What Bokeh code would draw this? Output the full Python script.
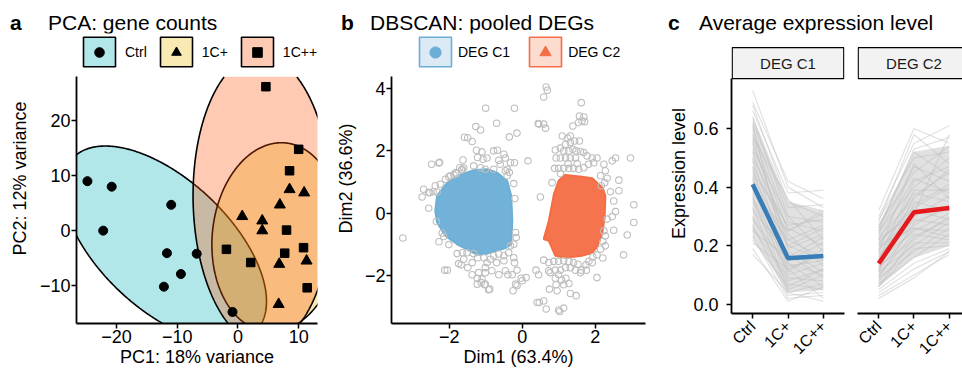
import math
import numpy as np
from bokeh.plotting import figure
from bokeh.layouts import row, column
from bokeh.models import (Range1d, FixedTicker, Legend, LegendItem, Div,
                          ColumnDataSource, NumeralTickFormatter)
from bokeh.core.properties import value
from bokeh.embed import file_html
from bokeh.resources import INLINE

FONT = "Liberation Sans"

# ---------------- Panel a: PCA ----------------
pca_groups = ["Ctrl", "1C+", "1C++"]
pca_ctrl_x = [-24.8, -20.8, -22.2, -11.0, -11.7, -6.8, -9.4, -12.2, -0.9]
pca_ctrl_y = [8.9, 7.9, -0.1, 4.6, -4.2, -4.3, -8.0, -10.3, -14.9]
pca_1cp_x = [0.7, 4.0, 4.0, 6.9, 8.5, 10.9, 6.8, 11.3, 6.7]
pca_1cp_y = [2.5, 1.7, -0.1, 4.6, 7.4, 6.8, -6.2, -5.6, -13.5]
pca_1cpp_x = [4.6, 10.0, 8.5, 8.0, 7.7, 10.8, 11.4, -1.9, 2.1]
pca_1cpp_y = [26.1, 14.7, 10.8, 0.0, -4.2, -3.2, -10.5, -3.5, -5.9]
# confidence ellipses: centre, spread along x / y, correlation
ell_cx = [-12.1, 6.3, 4.0]
ell_cy = [-2.6, -1.3, 5.5]
ell_sx = [16.8, 10.6, 11.4]
ell_sy = [17.9, 17.2, 26.3]
ell_r = [-0.58, 0.08, -0.03]
pca_colors = ["#00AFBB", "#E7B800", "#FC4E07"]
pca_markers = ["circle", "triangle", "square"]
pca_marker_sizes = [9, 11, 8.5]
pca_x_lim = (-26.6, 13.1)
pca_y_lim = (-17.0, 27.9)

# ---------------- Panel b: DBSCAN ----------------
clusters = ["DEG C1", "DEG C2"]
hull_c1_x = [-2.33, -2.01, -1.64, -1.33, -0.96, -0.68, -0.41, -0.30, -0.27, -0.30,
             -0.46, -0.96, -1.22, -1.51, -1.78, -2.10, -2.33, -2.38]
hull_c1_y = [0.56, 1.04, 1.25, 1.38, 1.41, 1.30, 1.04, 0.56, -0.25, -1.00,
             -1.12, -1.30, -1.34, -1.16, -1.00, -0.73, -0.30, 0.07]
hull_c2_x = [1.17, 1.64, 1.92, 2.21, 2.28, 2.26, 2.19, 2.05, 1.92, 1.64, 1.19,
             0.91, 0.73, 0.59, 0.73, 0.87, 1.00]
hull_c2_y = [1.23, 1.17, 1.12, 0.80, 0.56, -0.14, -0.67, -1.10, -1.27, -1.37, -1.43,
             -1.37, -0.89, -0.83, -0.25, 0.61, 1.04]
noise_x = [-3.27, -1.00, -0.21, -0.70, -1.27, -1.14, -1.58, -1.49, -1.37, -0.35, -0.14, -2.48, -2.26, -1.62,
           -1.25, -1.10, -1.22, -1.07, -0.96, -1.33, -1.14, -1.01, -0.78, -0.68, -0.50, -0.64, -0.46, -0.32,
           -0.21, -0.60, -0.41, -1.64, -1.83, -1.96, -2.10, -2.24, -2.38, -2.70, -2.56, -2.74, -2.44, -2.56,
           -2.35, -2.19, -2.15, -2.28, -2.01, -0.23, -0.20, -0.18, -0.16, -0.23, -0.32,
           -1.78, -1.64, -1.51, -1.33, -1.22, -1.37, -1.60, -1.74, -1.67, -1.49, -1.05, -0.96, -0.87, -0.78,
           -0.64, -0.50, -0.37, -0.23, -0.21, -0.50, -0.70, -1.01, -0.83, -1.01, -1.19, -1.37, -1.23, -1.10,
           -1.01, -0.89, -1.23, -0.64, -0.46, -0.39, -0.27, -0.14, 0.00, -0.14, -0.25, -2.12, -2.05, -1.87,
           -1.66, -0.41, -0.35, -0.46, -0.78, -0.18, -0.03, 0.11, -0.92, -1.12, -1.03, -2.53, -2.33, -2.28,
           -2.01, -1.80, -1.71, -1.60,
           0.66, 0.69, 0.59, 1.62, 1.57, 1.69, 1.64, 1.71, 1.55, 1.39, 0.46, 0.59, 0.64, 1.10, 1.25, 1.32,
           1.44, 1.57, 1.32, 1.19, 1.05, 0.91, 1.14, 1.28, 1.39, 1.48, 1.60, 1.69, 1.78, 1.92, 2.05, 1.96,
           1.82, 1.69, 1.55, 1.41, 1.28, 1.14, 1.00, 0.89, 1.32, 1.19, 1.05, 0.93, 1.46, 1.26, 1.51, 1.05,
           2.24, 2.28, 2.15, 2.33, 2.26, 2.17, 2.65, 2.42, 2.65, 2.51, 2.97, 2.56, 2.47, 3.06, 2.56, 2.47,
           2.33, 3.06, 2.24, 2.51, 2.28, 2.88, 2.21, 2.28, 2.15, 2.78, 2.21, 2.05, 1.94, 1.83, 1.92, 1.75,
           1.62, 1.76, 2.05, 0.59, 0.73, 0.87, 1.00, 1.14, 1.28, 1.41, 1.53, 0.73, 0.77, 0.91, 1.05, 1.19,
           1.32, 1.46, 1.60, 1.00, 0.91, 1.08, 1.20, 1.28, 1.14, 0.93, 0.75, 0.96, 1.32, 1.48, 0.38, 0.45,
           0.47, 0.59, 0.66, 1.00, 1.14, 0.50, 0.82, 0.16, 0.44, 0.41, 1.03]
noise_y = [-0.80, 3.37, 3.37, 2.89, 2.78, 2.67, 2.44, 2.42, 2.30, 2.45, 2.57, 1.57, 1.63, 1.71,
           2.02, 1.97, 1.79, 1.73, 1.77, 1.52, 1.46, 1.41, 2.00, 2.02, 1.89, 1.70, 1.77, 1.62,
           1.62, 1.57, 1.41, 1.41, 1.30, 1.20, 1.09, 0.93, 0.88, 0.77, 0.66, 0.52, 0.69, 0.16,
           -0.27, -0.64, -0.75, -0.92, -1.01, 0.95, 0.47, -0.62, -0.78, -1.00, -1.05,
           -1.30, -1.27, -1.27, -1.30, -1.43, -1.59, -1.48, -1.62, -1.66, -1.75, -1.43, -1.59, -1.48, -1.37,
           -1.31, -1.37, -1.27, -1.43, -1.59, -1.53, -1.59, -1.75, -1.85, -1.91, -1.91, -1.98, -2.09, -2.12,
           -2.28, -2.44, -2.28, -1.98, -1.85, -1.98, -1.98, -1.83, -2.17, -2.33, -2.49, -1.83, -1.83, 1.23,
           1.39, 1.20, 1.31, 1.36, 1.41, -2.28, -2.09, -2.07, -2.46, -2.23, -2.30, 0.66, 0.68, 1.61,
           1.17, 1.27, 1.46, 1.46,
           4.05, 3.95, 3.73, 3.55, 3.12, 3.09, 2.96, 2.94, 2.91, 2.80, 2.86, 2.86, 2.73, 2.48, 2.41, 2.48,
           2.32, 2.32, 2.27, 2.21, 2.09, 2.03, 2.00, 2.00, 2.05, 2.00, 1.98, 1.95, 1.84, 1.77, 1.77, 1.62,
           1.57, 1.46, 1.41, 1.44, 1.44, 1.44, 1.44, 1.44, 1.77, 1.77, 1.77, 1.77, 1.77, 1.59, 1.59, 1.27,
           1.57, 1.36, 1.20, 1.12, 0.98, 0.88, 1.06, 0.69, 0.72, 0.39, 1.77, 1.77, 1.68, 0.27, 0.05, -0.11,
           -0.19, -0.30, -0.57, -0.55, -0.73, -0.70, -0.91, -1.05, -1.16, -1.34, -1.44, -1.34, -1.40, -1.55, -1.59, -1.66,
           -1.83, -1.83, -2.07, -1.51, -1.59, -1.55, -1.55, -1.53, -1.55, -1.59, -1.64, -1.85, -1.91, -1.83, -1.83, -1.75,
           -1.75, -1.83, -1.91, -1.98, -2.09, -2.15, -2.09, -2.26, -2.30, -2.30, -2.44, -2.49, -2.58, -2.65, -1.83, -1.98,
           -2.87, -2.82, -3.08, -3.11, -3.05, 0.52, 0.98, 1.68, 2.88, -2.87, -3.16]
dbscan_colors = ["#6BAED6", "#F46D43"]
dbscan_key_fills = ["#DCEAF5", "#FDDCD0"]
dbscan_x_lim = (-3.58, 3.38)
dbscan_y_lim = (-3.544, 4.38)

# ---------------- Panel c: expression profiles ----------------
conditions = ["Ctrl", "1C+", "1C++"]
c1_profiles = [
    (0.73, 0.40, 0.33), (0.69, 0.42, 0.36), (0.68, 0.35, 0.30), (0.66, 0.38, 0.39), (0.64, 0.30, 0.28),
    (0.62, 0.33, 0.34), (0.60, 0.28, 0.25), (0.58, 0.25, 0.31), (0.57, 0.36, 0.22), (0.55, 0.22, 0.27),
    (0.53, 0.30, 0.18), (0.52, 0.19, 0.24), (0.50, 0.26, 0.20), (0.49, 0.15, 0.21), (0.47, 0.24, 0.13),
    (0.46, 0.12, 0.17), (0.44, 0.20, 0.26), (0.43, 0.10, 0.14), (0.42, 0.17, 0.09), (0.40, 0.08, 0.12),
    (0.39, 0.22, 0.16), (0.37, 0.05, 0.10), (0.36, 0.14, 0.06), (0.35, 0.11, 0.19), (0.33, 0.04, 0.07),
    (0.32, 0.18, 0.11), (0.30, 0.07, 0.05), (0.29, 0.13, 0.15), (0.27, 0.03, 0.04), (0.26, 0.09, 0.08),
    (0.25, 0.16, 0.23), (0.23, 0.02, 0.03), (0.22, 0.06, 0.12), (0.21, 0.12, 0.02), (0.19, 0.01, 0.06),
    (0.17, 0.04, 0.01), (0.45, 0.27, 0.29), (0.56, 0.20, 0.15), (0.61, 0.14, 0.10), (0.38, 0.25, 0.32),
]
c2_profiles = [
    (0.32, 0.60, 0.55), (0.30, 0.55, 0.61), (0.29, 0.50, 0.52), (0.28, 0.58, 0.48), (0.27, 0.45, 0.54),
    (0.26, 0.52, 0.44), (0.25, 0.40, 0.50), (0.24, 0.47, 0.42), (0.23, 0.36, 0.46), (0.22, 0.43, 0.38),
    (0.21, 0.33, 0.40), (0.20, 0.38, 0.35), (0.19, 0.30, 0.37), (0.18, 0.35, 0.32), (0.17, 0.27, 0.34),
    (0.16, 0.32, 0.29), (0.15, 0.25, 0.31), (0.14, 0.29, 0.27), (0.13, 0.22, 0.30), (0.12, 0.26, 0.25),
    (0.11, 0.20, 0.28), (0.10, 0.24, 0.22), (0.09, 0.18, 0.26), (0.08, 0.21, 0.21), (0.07, 0.16, 0.24),
    (0.06, 0.19, 0.20), (0.05, 0.14, 0.19), (0.04, 0.12, 0.18), (0.03, 0.10, 0.17), (0.02, 0.09, 0.18),
    (0.15, 0.42, 0.47), (0.12, 0.34, 0.41), (0.18, 0.48, 0.36), (0.09, 0.28, 0.33), (0.22, 0.31, 0.58),
    (0.06, 0.23, 0.29), (0.11, 0.37, 0.45), (0.20, 0.26, 0.23), (0.14, 0.39, 0.39), (0.25, 0.53, 0.57),
]
c1_mean = [0.41, 0.157, 0.165]
c2_mean = [0.139, 0.314, 0.329]
mean_colors = ["#377EB8", "#E41A1C"]
expr_y_lim = (-0.0317, 0.771)

# ---------------- layout constants (pixels) ----------------
TITLE_H = 33
FIG_H = 376 - TITLE_H
BOTTOM = 53
FRAME_H = FIG_H - BOTTOM
DATA_TOP_PX = 76 - TITLE_H      # height of the legend strip above the data area (panels a, b)
C_SHIFT = 10                    # panel c axis sits higher than panels a, b
KEY_H = 37                      # legend key glyph box height
NAN1 = dict(x=[np.nan], y=[np.nan])


def extended_top(lo, hi, data_px, frame_h):
    return hi + (hi - lo) * (frame_h - data_px) / data_px


def style(p, tick_size="18px", title_size="18px"):
    for ax in p.axis:
        ax.axis_line_width = 1.8
        ax.axis_line_color = "black"
        ax.major_tick_line_color = "black"
        ax.major_tick_line_width = 1.5
        ax.major_tick_out = 5
        ax.major_tick_in = 0
        ax.minor_tick_line_color = None
        ax.major_label_text_font = FONT
        ax.major_label_text_font_size = tick_size
        ax.major_label_text_color = "black"
        ax.axis_label_text_font = FONT
        ax.axis_label_text_font_size = title_size
        ax.axis_label_text_font_style = "normal"
        ax.axis_label_text_color = "black"
        ax.major_label_standoff = 1
        ax.axis_label_standoff = 1
    p.grid.visible = False
    p.outline_line_color = None
    p.background_fill_color = "white"
    p.border_fill_color = "white"


def make_fig(width, height, left, right, x_range, y_range):
    return figure(width=width, height=height, x_range=x_range, y_range=y_range, title=None,
                  output_backend="svg", toolbar_location=None,
                  min_border_left=left, min_border_right=right, min_border_top=0,
                  min_border_bottom=BOTTOM)


def key_legends(p, labels, box_renderers, marker_renderers, x, standoff, spacing, marker_px):
    common = dict(orientation="horizontal", glyph_width=40, label_standoff=standoff, spacing=spacing,
                  padding=0, margin=0, border_line_color=None, background_fill_alpha=0,
                  label_text_font=FONT, label_text_font_size="14px")
    boxes = Legend(items=[LegendItem(label=l, renderers=[r]) for l, r in zip(labels, box_renderers)],
                   location=(x, FRAME_H - KEY_H), glyph_height=KEY_H, label_text_color="black", **common)
    gh = int(round(marker_px / 0.4))      # marker legend glyphs are drawn at 0.4 x the glyph box
    marks = Legend(items=[LegendItem(label=l, renderers=[r]) for l, r in zip(labels, marker_renderers)],
                   location=(x, FRAME_H - KEY_H + (KEY_H - gh) // 2), glyph_height=gh,
                   label_text_alpha=0, **common)
    p.add_layout(boxes)
    p.add_layout(marks)


# ================= Figure a =================
a_data_px = FRAME_H - DATA_TOP_PX
pa = make_fig(330, FIG_H, 76, 13, Range1d(*pca_x_lim),
              Range1d(pca_y_lim[0], extended_top(pca_y_lim[0], pca_y_lim[1], a_data_px - 0.3, FRAME_H)))
t = np.linspace(0, 2 * np.pi, 721)
key_a = []
for i in range(3):
    r = ell_r[i]
    ex = ell_cx[i] + ell_sx[i] * np.cos(t)
    ey = ell_cy[i] + ell_sy[i] * (r * np.cos(t) + math.sqrt(1 - r * r) * np.sin(t))
    pa.patch(ex, np.minimum(ey, pca_y_lim[1]), fill_color=pca_colors[i], fill_alpha=0.3,
             line_color=None)
    pa.line(ex, np.where(ey > pca_y_lim[1], np.nan, ey), line_color="black", line_width=1.6)
    key_a.append(pa.patch(x="x", y="y", source=ColumnDataSource(NAN1), fill_color=pca_colors[i],
                          fill_alpha=0.3, line_color="black", line_width=1.6))
pts = [(pca_ctrl_x, pca_ctrl_y), (pca_1cp_x, pca_1cp_y), (pca_1cpp_x, pca_1cpp_y)]
pt_renderers = []
for i, (xs, ys) in enumerate(pts):
    pt_renderers.append(pa.scatter(xs, ys, marker=pca_markers[i], size=pca_marker_sizes[i],
                                   fill_color="black", line_color="black"))
pa.xaxis.ticker = FixedTicker(ticks=[-20, -10, 0, 10])
pa.yaxis.ticker = FixedTicker(ticks=[-10, 0, 10, 20])
pa.yaxis.bounds = pca_y_lim
pa.xaxis.axis_label = "PC1: 18% variance"
pa.yaxis.axis_label = "PC2: 12% variance"
style(pa)
pa.yaxis.axis_label_standoff = 7
key_legends(pa, pca_groups, key_a, pt_renderers, 3, 6, 9, 9.6)

# ================= Figure b =================
pb = make_fig(320, FIG_H, 61, 5, Range1d(*dbscan_x_lim),
              Range1d(dbscan_y_lim[0], extended_top(dbscan_y_lim[0], dbscan_y_lim[1], a_data_px - 0.3, FRAME_H)))
hulls = [(hull_c1_x, hull_c1_y), (hull_c2_x, hull_c2_y)]
for i, (hx, hy) in enumerate(hulls):
    pb.patch(hx, hy, fill_color=dbscan_colors[i], fill_alpha=0.95,
             line_color=dbscan_colors[i], line_width=2)
pb.scatter(noise_x, noise_y, marker="circle", size=6.5, fill_color=None,
           line_color="#BEBEBE", line_width=1.1)
key_b, mark_b = [], []
for i, mk in enumerate(["circle", "triangle"]):
    key_b.append(pb.patch(x="x", y="y", source=ColumnDataSource(NAN1),
                          fill_color=dbscan_key_fills[i], line_color=dbscan_colors[i], line_width=1.6))
    mark_b.append(pb.scatter(x="x", y="y", source=ColumnDataSource(NAN1), marker=mk,
                             fill_color=dbscan_colors[i], line_color=dbscan_colors[i]))
pb.xaxis.ticker = FixedTicker(ticks=[-2, 0, 2])
pb.yaxis.ticker = FixedTicker(ticks=[-2, 0, 2, 4])
pb.yaxis.bounds = dbscan_y_lim
pb.xaxis.axis_label = "Dim1 (63.4%)"
pb.yaxis.axis_label = "Dim2 (36.6%)"
style(pb)
pb.yaxis.axis_label_standoff = 6
key_legends(pb, clusters, key_b, mark_b, 24, 3, 15, 11.2)

# ================= Figure c (two facets) =================
PX_PER_UNIT_C = 293.0
Y0_PX_C = 304 - TITLE_H          # pixel row of value 0 inside the figure


def facet(profiles, mean, color, name, width, left, right, x_end, with_y):
    p = make_fig(width, FIG_H - C_SHIFT, left, right, Range1d(0.4, x_end),
                 Range1d(expr_y_lim[0], Y0_PX_C / PX_PER_UNIT_C))
    xs_idx = list(range(1, len(conditions) + 1))
    arr = np.array(profiles)
    lo = np.percentile(arr, 10, axis=0)
    hi = np.percentile(arr, 90, axis=0)
    p.varea(x=xs_idx, y1=lo, y2=hi, fill_color="#C9C9C9", fill_alpha=0.55)
    p.multi_line([xs_idx for _ in profiles], [list(pr) for pr in profiles],
                 line_color="#BEBEBE", line_alpha=0.45, line_width=1.2)
    p.line(xs_idx, mean, line_color=color, line_width=4.5)
    # facet strip
    strip_bottom = expr_y_lim[1]
    strip_top = (Y0_PX_C - 14.2) / PX_PER_UNIT_C
    p.quad(left=0.42, right=3.58 if with_y else 3.8, bottom=strip_bottom, top=strip_top,
           fill_color="#F2F2F2", line_color="black", line_width=1.3)
    p.text(x=[2], y=[(strip_bottom + strip_top) / 2], text=[name], text_align="center",
           text_baseline="middle", text_font=value(FONT), text_font_size="15px", text_color="#1A1A1A")
    p.xaxis.ticker = FixedTicker(ticks=xs_idx)
    p.xaxis.major_label_overrides = {i + 1: c for i, c in enumerate(conditions)}
    p.xaxis.major_label_orientation = math.pi / 4
    p.yaxis.ticker = FixedTicker(ticks=[0.0, 0.2, 0.4, 0.6])
    p.yaxis.formatter = NumeralTickFormatter(format="0.0")
    p.yaxis.bounds = expr_y_lim
    style(p)
    p.xaxis.major_label_text_font_size = "16px"
    p.xaxis.major_label_standoff = 5
    if with_y:
        p.yaxis.axis_label = "Expression level"
        p.yaxis.major_label_standoff = 8
        p.yaxis.axis_label_standoff = 1
    else:
        p.yaxis.visible = False
    return p


pc1 = facet(c1_profiles, c1_mean, mean_colors[0], clusters[0], 200, 81, 6, 3.6, True)
pc2 = facet(c2_profiles, c2_mean, mean_colors[1], clusters[1], 112, 7, 0, 0.4 + 105 / 35.3, False)


# ================= titles =================
def span(left, text, bold=False):
    weight = "bold" if bold else "normal"
    return (f'<span style="position:absolute;left:{left}px;top:8px;font-family:\'{FONT}\';'
            f'font-size:21px;font-weight:{weight};color:black;white-space:nowrap;">{text}</span>')


titles = [(10, "a", True), (48, "PCA: gene counts", False),
          (341, "b", True), (370, "DBSCAN: pooled DEGs", False),
          (668, "c", True), (699, "Average expression level", False)]
html = ('<div style="position:relative;width:962px;height:%dpx;">' % TITLE_H
        + "".join(span(l, tx, b) for l, tx, b in titles) + "</div>")
title_div = Div(text=html, width=962, height=TITLE_H, margin=(0, 0, 0, 0))

layout = column(title_div, row(pa, pb, pc1, pc2))
open("out.html", "w").write(file_html(layout, INLINE))
